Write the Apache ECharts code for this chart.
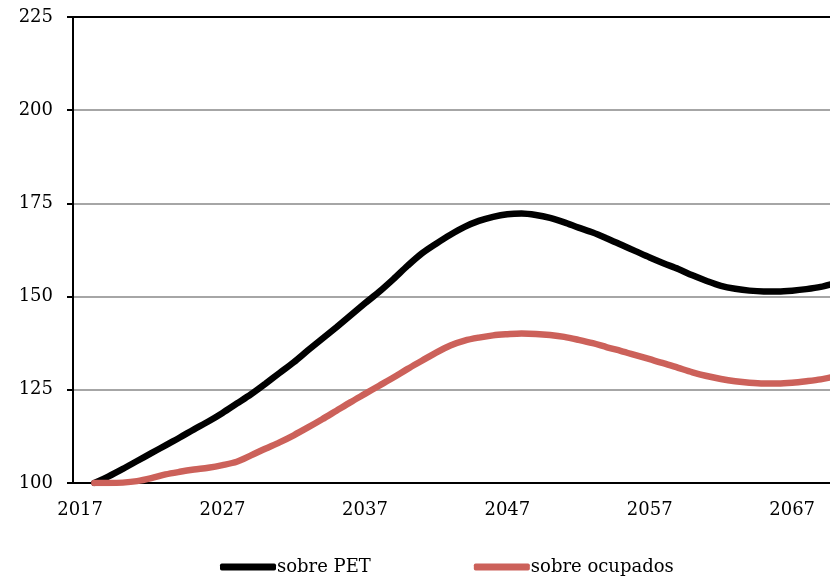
<!DOCTYPE html>
<html>
<head>
<meta charset="utf-8">
<script src="https://cdn.jsdelivr.net/npm/echarts@6/dist/echarts.min.js"></script>
<style>
  html, body { margin: 0; padding: 0; background: #fff; }
  #chart { width: 830px; height: 578px; }
</style>
</head>
<body>
<div id="chart"></div>
<script>
// years on the category axis (2017 has no value, series start at 2018 = 100)
const years = [];
for (let y = 2017; y <= 2070; y++) years.push(String(y));

const sobrePET = [
  null, 100, 101.8, 103.8, 105.9, 108.0, 110.1, 112.2, 114.4, 116.5,
  118.8, 121.3, 123.8, 126.6, 129.5, 132.4, 135.6, 138.7, 141.8, 145.0,
  148.2, 151.3, 154.7, 158.3, 161.6, 164.2, 166.6, 168.7, 170.3, 171.4,
  172.1, 172.3, 171.9, 171.1, 169.9, 168.5, 167.2, 165.6, 163.9, 162.2,
  160.5, 158.9, 157.4, 155.7, 154.2, 152.9, 152.1, 151.6, 151.4, 151.4,
  151.6, 152.0, 152.6, 153.6
];

const sobreOcupados = [
  null, 100, 100.0, 100.1, 100.5, 101.3, 102.3, 103.0, 103.6, 104.1,
  104.8, 105.7, 107.4, 109.2, 110.9, 112.8, 114.9, 117.1, 119.4, 121.7,
  123.9, 126.1, 128.3, 130.6, 132.8, 135.0, 136.9, 138.2, 139.0, 139.6,
  139.9, 140.1, 140.0, 139.7, 139.2, 138.4, 137.5, 136.4, 135.4, 134.3,
  133.2, 132.1, 130.9, 129.7, 128.7, 127.9, 127.3, 126.9, 126.7, 126.7,
  126.9, 127.3, 127.8, 128.6
];

const font = "DejaVu Serif";
const chart = echarts.init(document.getElementById("chart"));

const option = {
  animation: false,
  backgroundColor: "#fff",
  // plot runs past the right edge of the picture (cropped like the original)
  grid: { left: 73, top: 17, bottom: 95, width: 769, outerBoundsMode: "none", containLabel: false },
  legend: {
    left: 215,
    top: 553,
    itemWidth: 56,
    itemHeight: 7,
    itemGap: 103,
    icon: "roundRect",
    textStyle: { fontFamily: font, fontSize: 18, color: "#000", padding: [0, 0, 0, -4] },
    data: ["sobre PET", "sobre ocupados"],
  },
  xAxis: [
    {
      type: "category",
      data: years,
      boundaryGap: true,
      axisLine: { lineStyle: { color: "#000", width: 2 } },
      axisTick: { interval: 4, length: 6, lineStyle: { color: "#000", width: 2 } },
      axisLabel: { interval: 9, margin: 18, color: "#000", fontFamily: font, fontSize: 18 },
      splitLine: { show: false },
    },
    {
      type: "category",
      position: "top",
      data: years,
      axisLine: { lineStyle: { color: "#000", width: 2 } },
      axisTick: { show: false },
      axisLabel: { show: false },
    },
  ],
  yAxis: {
    type: "value",
    min: 100,
    max: 225,
    interval: 25,
    axisLine: { show: true, lineStyle: { color: "#000", width: 2 } },
    axisTick: { show: true, length: 6, lineStyle: { color: "#000", width: 2 } },
    axisLabel: { margin: 20, color: "#000", fontFamily: font, fontSize: 18 },
    splitLine: { lineStyle: { color: "#a6a6a6", width: 2 } },
  },
  series: [
    {
      name: "sobre PET",
      type: "line",
      data: sobrePET,
      smooth: 0.3,
      symbol: "none",
      color: "#000",
      lineStyle: { color: "#000", width: 6.5, cap: "round" },
    },
    {
      name: "sobre ocupados",
      type: "line",
      data: sobreOcupados,
      smooth: 0.3,
      symbol: "none",
      color: "#cc615a",
      lineStyle: { color: "#cc615a", width: 6.5, cap: "round" },
    },
  ],
};

chart.setOption(option);
</script>
</body>
</html>
